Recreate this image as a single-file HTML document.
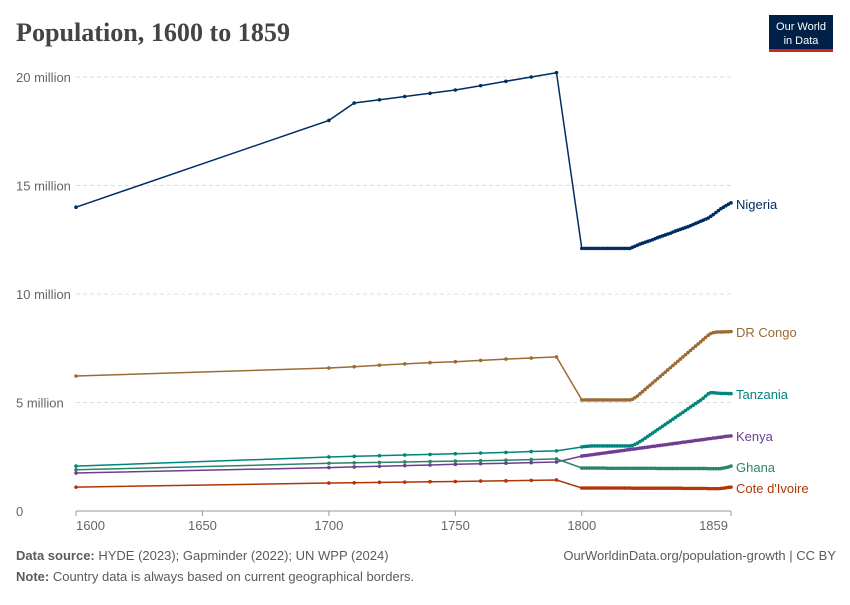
<!DOCTYPE html>
<html><head><meta charset="utf-8"><style>
body{margin:0;background:#fff;width:850px;height:600px;overflow:hidden;font-family:"Liberation Sans",sans-serif}
</style></head><body>
<svg id="c" width="850" height="600">
<text x="16" y="41" font-family="Liberation Serif,serif" font-size="26" font-weight="bold" fill="#444" textLength="274" lengthAdjust="spacingAndGlyphs">Population, 1600 to 1859</text>
<g><rect x="769" y="15" width="64" height="36" fill="#002147"/><rect x="769" y="49" width="64" height="3" fill="#ce261e"/>
<text x="801" y="30" text-anchor="middle" font-size="11" fill="#fff">Our World</text><text x="801" y="44" text-anchor="middle" font-size="11" fill="#fff">in Data</text></g>
<g id="grid"></g><g id="series"></g>
<text x="16" y="560" font-size="13" fill="#5b5b5b"><tspan font-weight="bold">Data source:</tspan> HYDE (2023); Gapminder (2022); UN WPP (2024)</text>
<text x="836" y="560" text-anchor="end" font-size="13" fill="#5b5b5b">OurWorldinData.org/population-growth | CC BY</text>
<text x="16" y="581" font-size="13" fill="#5b5b5b"><tspan font-weight="bold">Note:</tspan> Country data is always based on current geographical borders.</text>
</svg>
<script>
const earlyYears=[1600,1700,1710,1720,1730,1740,1750,1760,1770,1780,1790];
const names=["Nigeria","DR Congo","Tanzania","Kenya","Ghana","Cote d'Ivoire"];
const colors=["#002d62","#9a6b33","#00847e","#6d3e91","#2c8465","#b13507"];
const nigeria=[14.0,18.0,18.8,18.95,19.1,19.25,19.4,19.6,19.8,20.0,20.2,
12.1,12.1,12.1,12.1,12.1,12.1,12.1,12.1,12.1,12.1,12.1,12.1,12.1,12.1,12.1,12.1,12.1,12.1,12.1,12.1,
12.15,12.2,12.25,12.3,12.34,12.38,12.42,12.46,12.5,12.55,12.6,12.64,12.68,12.72,12.76,12.8,12.85,12.9,12.94,12.98,13.02,13.06,13.1,13.15,13.2,13.25,13.3,13.35,13.4,13.45,13.5,
13.58,13.66,13.75,13.84,13.93,14.0,14.07,14.14,14.2];
const drcongo=[6.22,6.59,6.65,6.72,6.78,6.84,6.88,6.94,7.0,7.05,7.1,
5.12,5.12,5.12,5.12,5.12,5.12,5.12,5.12,5.12,5.12,5.12,5.12,5.12,5.12,5.12,5.12,5.12,5.12,5.12,5.12,
5.15,5.22,5.3,5.4,5.5,5.6,5.7,5.8,5.9,6.0,6.1,6.2,6.3,6.4,6.5,6.6,6.7,6.8,6.9,7.0,7.1,7.2,7.3,7.4,7.5,7.6,7.7,7.8,7.9,8.0,8.1,
8.18,8.22,8.24,8.25,8.25,8.25,8.26,8.26,8.27];
const tanzania=[2.07,2.49,2.52,2.55,2.58,2.61,2.64,2.67,2.7,2.74,2.77,
2.95,2.97,2.98,2.99,3.0,3.0,3.0,3.0,3.0,3.0,3.0,3.0,3.0,3.0,3.0,3.0,3.0,3.0,3.0,3.0,
3.02,3.07,3.13,3.2,3.27,3.35,3.43,3.51,3.59,3.67,3.75,3.83,3.91,3.99,4.07,4.15,4.23,4.31,4.39,4.47,4.55,4.63,4.71,4.79,4.87,4.95,5.03,5.11,5.2,5.3,5.4,
5.45,5.45,5.44,5.43,5.42,5.42,5.42,5.41,5.41];
const kenya=[1.75,2.0,2.03,2.06,2.09,2.12,2.15,2.18,2.2,2.23,2.26,
2.53,2.55,2.56,2.58,2.59,2.61,2.63,2.64,2.66,2.67,2.69,2.71,2.72,2.74,2.75,2.77,2.78,2.8,2.82,2.83,
2.85,2.86,2.88,2.9,2.91,2.93,2.94,2.96,2.98,2.99,3.01,3.02,3.04,3.05,3.07,3.09,3.1,3.12,3.13,3.15,
3.17,3.18,3.2,3.21,3.23,3.25,3.26,3.28,3.29,3.31,3.33,3.34,3.36,3.37,3.39,3.4,3.42,3.44,3.45,3.46];
const ghana=[1.9,2.2,2.22,2.24,2.26,2.28,2.3,2.32,2.34,2.37,2.4,
1.98,1.98,1.98,1.98,1.98,1.98,1.98,1.98,1.98,1.98,1.97,1.97,1.97,1.97,1.97,1.97,1.97,1.97,1.97,1.97,
1.97,1.97,1.97,1.97,1.97,1.97,1.97,1.97,1.97,1.97,1.96,1.96,1.96,1.96,1.96,1.96,1.96,1.96,1.96,1.96,
1.96,1.96,1.96,1.96,1.96,1.96,1.96,1.96,1.96,1.96,1.95,1.95,1.95,1.95,1.95,1.96,1.98,2.0,2.03,2.07];
const cote=[1.1,1.29,1.3,1.32,1.33,1.35,1.36,1.38,1.39,1.41,1.43,
1.06,1.06,1.06,1.06,1.06,1.06,1.06,1.06,1.06,1.06,1.06,1.06,1.06,1.06,1.06,1.06,1.06,1.06,1.06,1.06,
1.05,1.05,1.05,1.05,1.05,1.05,1.05,1.05,1.05,1.05,1.05,1.05,1.05,1.05,1.05,1.05,1.05,1.05,1.05,1.05,
1.04,1.04,1.04,1.04,1.04,1.04,1.04,1.04,1.04,1.04,1.03,1.03,1.03,1.03,1.03,1.04,1.05,1.07,1.09,1.1];
const yTicks=[0,5,10,15,20];
const yTickLabels=["0","5 million","10 million","15 million","20 million"];
const xTicks=[1600,1650,1700,1750,1800,1859];

const NS="http://www.w3.org/2000/svg";
const annualYears=[];for(let y=1800;y<=1859;y++)annualYears.push(y);
const years=earlyYears.concat(annualYears);
const series=[nigeria,drcongo,tanzania,kenya,ghana,cote];
const xs=y=>76+(y-1600)*(731-76)/259;
const Y=v=>511-v*21.7;
function mk(t,a,p){const e=document.createElementNS(NS,t);for(const k in a)e.setAttribute(k,a[k]);p.appendChild(e);return e;}
const grid=document.getElementById('grid'),sg=document.getElementById('series');
yTicks.forEach((t,i)=>{
 const l=mk('line',{x1:76,x2:731,y1:Y(t),y2:Y(t),stroke:t===0?'#999':'#ddd','stroke-dasharray':t===0?'':'4,3'},grid);
 
 
 const tx=mk('text',{x:16,y:Y(t)+5,'font-size':13,fill:'#666'},grid);tx.textContent=yTickLabels[i];
 
 
});
xTicks.forEach((t,i)=>{
 mk('line',{x1:xs(t),x2:xs(t),y1:511,y2:516,stroke:'#999'},grid);
 const anchor=i===0?'start':(i===xTicks.length-1?'end':'middle');
 const tx=mk('text',{x:xs(t)+(i===xTicks.length-1?-3:0),y:530,'font-size':13,fill:'#666','text-anchor':anchor},grid);tx.textContent=t;
 
 
});
const labelY=[204,332,394,436,467,488];
series.forEach((s,i)=>{
 const g=mk('g',{},sg);
 
 
 const pts=s.map((v,j)=>xs(years[j]).toFixed(1)+','+Y(v).toFixed(1)).join(' ');
 mk('polyline',{points:pts,fill:'none',stroke:colors[i],'stroke-width':1.5},g);
 s.forEach((v,j)=>{const c=mk('circle',{cx:xs(years[j]),cy:Y(v),r:1.8,fill:colors[i]},g);
  
  });
 const lb=mk('text',{x:736,y:labelY[i]+5,'font-size':13,fill:colors[i]},g);lb.textContent=names[i];
 
 
});
</script>
</body></html>
